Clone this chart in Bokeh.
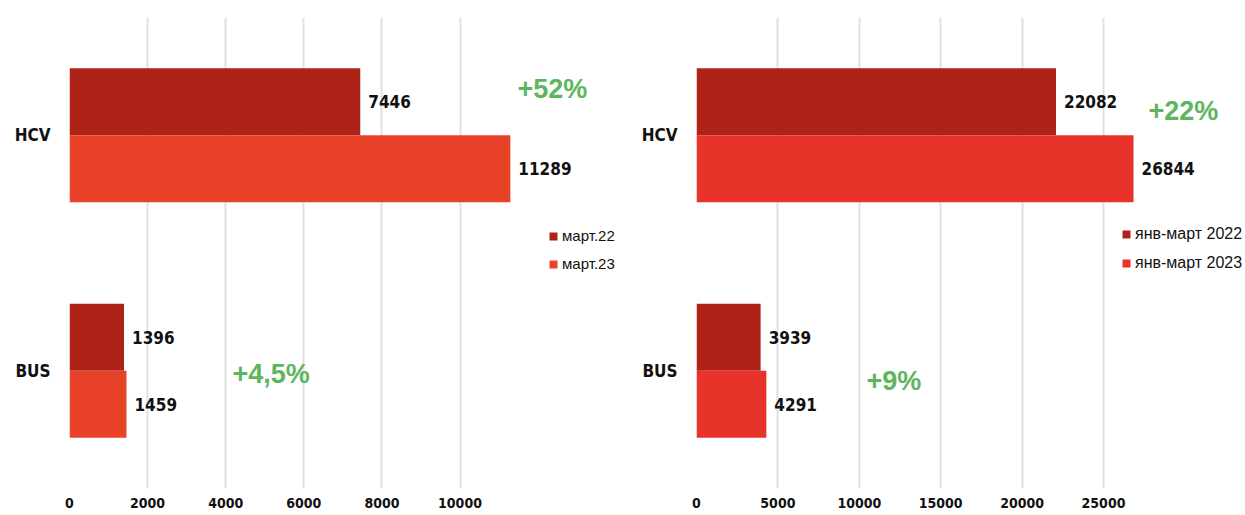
from bokeh.plotting import figure
from bokeh.models import (ColumnDataSource, FactorRange, Range1d, FixedTicker,
                          Label, Legend, LegendItem, BasicTickFormatter)
from bokeh.transform import dodge
from bokeh.layouts import row
from bokeh.core.properties import value
from bokeh.embed import file_html
from bokeh.resources import INLINE

# ---------------- data ----------------
categories = ["HCV", "BUS"]

left_series = ["март.22", "март.23"]
left_prev = [7446, 1396]
left_curr = [11289, 1459]
left_growth = ["+52%", "+4,5%"]
left_ticks = [0, 2000, 4000, 6000, 8000, 10000]

right_series = ["янв-март 2022", "янв-март 2023"]
right_prev = [22082, 3939]
right_curr = [26844, 4291]
right_growth = ["+22%", "+9%"]
right_ticks = [0, 5000, 10000, 15000, 20000, 25000]

# ---------------- style ----------------
DARK = "#AE2218"
LEFT_LIGHT = "#E84328"
RIGHT_LIGHT = "#E8332A"
GREEN = "#5DB65E"
NARROW = "DejaVu Sans Condensed"
SANS = "Liberation Sans"
TXT = "#111111"
BAR_H = 0.2845


def make_panel(width, border_left, x_end, ticks, series, prev, curr, light,
               growth, growth_pos, legend_pos, legend_size):
    p = figure(width=width, height=515,
               y_range=FactorRange(factors=["BUS", "HCV"], range_padding=0),
               x_range=Range1d(0, x_end),
               output_backend="svg", toolbar_location=None,
               min_border_left=border_left, min_border_right=0,
               min_border_top=17, min_border_bottom=27)
    p.outline_line_color = None
    p.background_fill_color = "white"

    src = ColumnDataSource(dict(
        cat=categories, prev=prev, curr=curr,
        prev_lbl=[str(v) for v in prev], curr_lbl=[str(v) for v in curr]))

    r1 = p.hbar(y=dodge("cat", BAR_H / 2, range=p.y_range), left=0, right="prev",
                height=BAR_H, source=src, fill_color=DARK, line_color=None)
    r2 = p.hbar(y=dodge("cat", -BAR_H / 2, range=p.y_range), left=0, right="curr",
                height=BAR_H, source=src, fill_color=light, line_color=None)

    for col, lbl, off in (("prev", "prev_lbl", BAR_H / 2), ("curr", "curr_lbl", -BAR_H / 2)):
        p.text(x=col, y=dodge("cat", off, range=p.y_range), text=lbl, source=src,
               x_offset=8, text_baseline="middle", text_align="left",
               text_font=value(NARROW), text_font_style="bold",
               text_font_size="17px", text_color=TXT)

    for txt, (gx, gy) in zip(growth, growth_pos):
        p.add_layout(Label(x=gx, y=gy, x_units="screen", y_units="screen",
                           text=txt, text_color=GREEN, text_font=SANS,
                           text_font_size="27px", text_font_style="bold",
                           text_baseline="middle", text_align="left"))

    legend = Legend(items=[LegendItem(label=series[0], renderers=[r1]),
                           LegendItem(label=series[1], renderers=[r2])],
                    location=legend_pos, orientation="vertical",
                    glyph_width=10, glyph_height=10, label_height=10,
                    label_standoff=4, spacing=11, padding=0, margin=0,
                    border_line_color=None, background_fill_alpha=0,
                    label_text_font=SANS, label_text_font_size=legend_size,
                    label_text_color=TXT)
    p.add_layout(legend)

    p.xaxis.ticker = FixedTicker(ticks=ticks)
    p.xaxis.formatter = BasicTickFormatter(use_scientific=False)
    p.xgrid.ticker = FixedTicker(ticks=ticks)
    p.xgrid.grid_line_color = "#e0e0e0"
    p.xgrid.grid_line_width = 2
    p.ygrid.visible = False

    for ax in (p.xaxis, p.yaxis):
        ax.axis_line_color = None
        ax.major_tick_line_color = None
        ax.minor_tick_line_color = None
        ax.major_tick_out = 0
        ax.major_tick_in = 0
        ax.major_label_text_font = NARROW
        ax.major_label_text_font_style = "bold"
        ax.major_label_text_color = TXT
    p.xaxis.major_label_text_font_size = "14px"
    p.xaxis.major_label_standoff = 9
    p.yaxis.major_label_text_font_size = "17px"
    p.yaxis.major_label_standoff = 19
    return p


p1 = make_panel(625, 69, 14238, left_ticks, left_series, left_prev, left_curr,
                LEFT_LIGHT, left_growth, [(448, 400), (163, 115)], (479, 216), "15px")
p2 = make_panel(620, 71, 33722, right_ticks, right_series, right_prev, right_curr,
                RIGHT_LIGHT, right_growth, [(452, 378), (170, 108)], (425, 216), "16px")

layout = row(p1, p2, spacing=0)
open("out.html", "w").write(file_html(layout, INLINE))
